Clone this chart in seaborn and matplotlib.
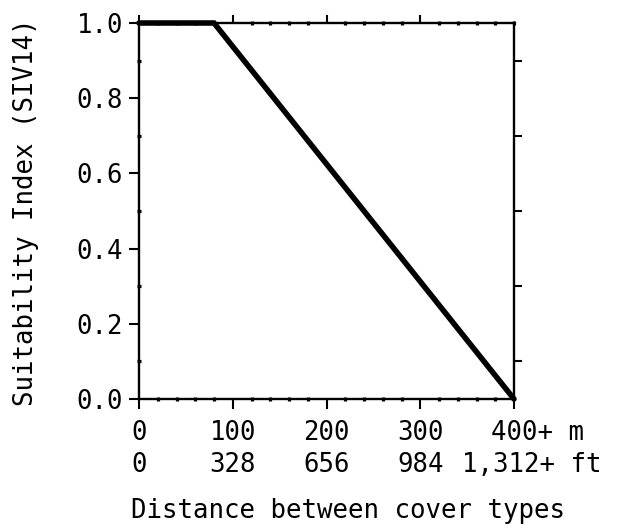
import matplotlib
matplotlib.use("Agg")
import matplotlib.pyplot as plt
import matplotlib.transforms as mtransforms
from matplotlib.ticker import MultipleLocator
import seaborn as sns
import pandas as pd

# ---- data ----
distance_m = [0, 80, 400]
suitability = [1.0, 1.0, 0.0]
x_ticks_m = [0, 100, 200, 300, 400]
x_labels_m = ["0", "100", "200", "300", "400+ m"]
x_labels_ft = ["0", "328", "656", "984", "1,312+ ft"]
y_ticks = [0.0, 0.2, 0.4, 0.6, 0.8, 1.0]
y_labels = ["0.0", "0.2", "0.4", "0.6", "0.8", "1.0"]
x_title = "Distance between cover types"
y_title = "Suitability Index (SIV14)"

sns.set_style("ticks")
plt.rcParams["font.family"] = ["DejaVu Sans Mono"]
plt.rcParams["text.color"] = "black"
plt.rcParams["ytick.color"] = "black"
plt.rcParams["xtick.color"] = "black"
plt.rcParams["ytick.labelcolor"] = "black"
FS = 18.5

fig = plt.figure(figsize=(6.18, 5.30), dpi=100)
ax = fig.add_axes([139/618, 1 - 399/530, (514-139)/618, (399-23)/530])

df = pd.DataFrame({"d": distance_m, "si": suitability})
sns.lineplot(data=df, x="d", y="si", color="black", lw=4.0, ax=ax)
for ln in ax.lines:
    ln.set_clip_on(False)
    ln.set_solid_joinstyle("miter")

ax.set_xlim(0, 400)
ax.set_ylim(0, 1)
for s in ax.spines.values():
    s.set_linewidth(1.7)
    s.set_color("black")

ax.set_xticks(x_ticks_m)
ax.set_xticklabels([])
ax.xaxis.set_minor_locator(MultipleLocator(20))
ax.set_yticks(y_ticks)
ax.set_yticklabels(y_labels, fontsize=FS, color="black")
ax.yaxis.set_minor_locator(MultipleLocator(0.1))
ax.tick_params(axis="both", which="major", direction="out", length=7.5, width=1.5,
               color="black")
ax.tick_params(axis="y", which="major", pad=4)
ax.tick_params(axis="both", which="minor", direction="inout", length=3.5, width=2.3,
               color="black")

# top ticks
top = ax.secondary_xaxis("top")
top.set_xticks([0, 100, 200, 300])
top.set_xticklabels([])
top.xaxis.set_minor_locator(MultipleLocator(20))
top.tick_params(which="major", direction="out", length=6, width=1.5, color="black")
top.tick_params(which="minor", direction="inout", length=3.5, width=2.3, color="black")
top.spines["top"].set_visible(False)

# right ticks
right = ax.secondary_yaxis("right")
right.set_yticks([0.1, 0.3, 0.5, 0.7, 0.9])
right.set_yticklabels([])
right.tick_params(which="major", direction="out", length=6, width=1.5, color="black")
right.spines["right"].set_visible(False)

# two-row x tick labels
trans = mtransforms.blended_transform_factory(ax.transData, ax.transAxes)
for xv, lm, lf in zip(x_ticks_m, x_labels_m, x_labels_ft):
    if "+" in lm:
        off1 = mtransforms.ScaledTranslation(-23/100, 0, fig.dpi_scale_trans)
        ax.text(xv, -0.09, lm, transform=trans + off1, ha="left", va="center", fontsize=FS)
    else:
        ax.text(xv, -0.09, lm, transform=trans, ha="center", va="center", fontsize=FS)
    if "+" in lf:
        off2 = mtransforms.ScaledTranslation(-52/100, 0, fig.dpi_scale_trans)
        ax.text(xv, -0.175, lf, transform=trans + off2, ha="left", va="center", fontsize=FS)
    else:
        ax.text(xv, -0.175, lf, transform=trans, ha="center", va="center", fontsize=FS)

ax.set_xlabel("")
ax.set_ylabel("")
fig.text(348/618, 1 - 511/530, x_title, ha="center", va="center", fontsize=FS)
fig.text(26/618, 1 - 212/530, y_title, ha="center", va="center", rotation=90, fontsize=FS)

fig.savefig("out.png", dpi=100, facecolor="white")
